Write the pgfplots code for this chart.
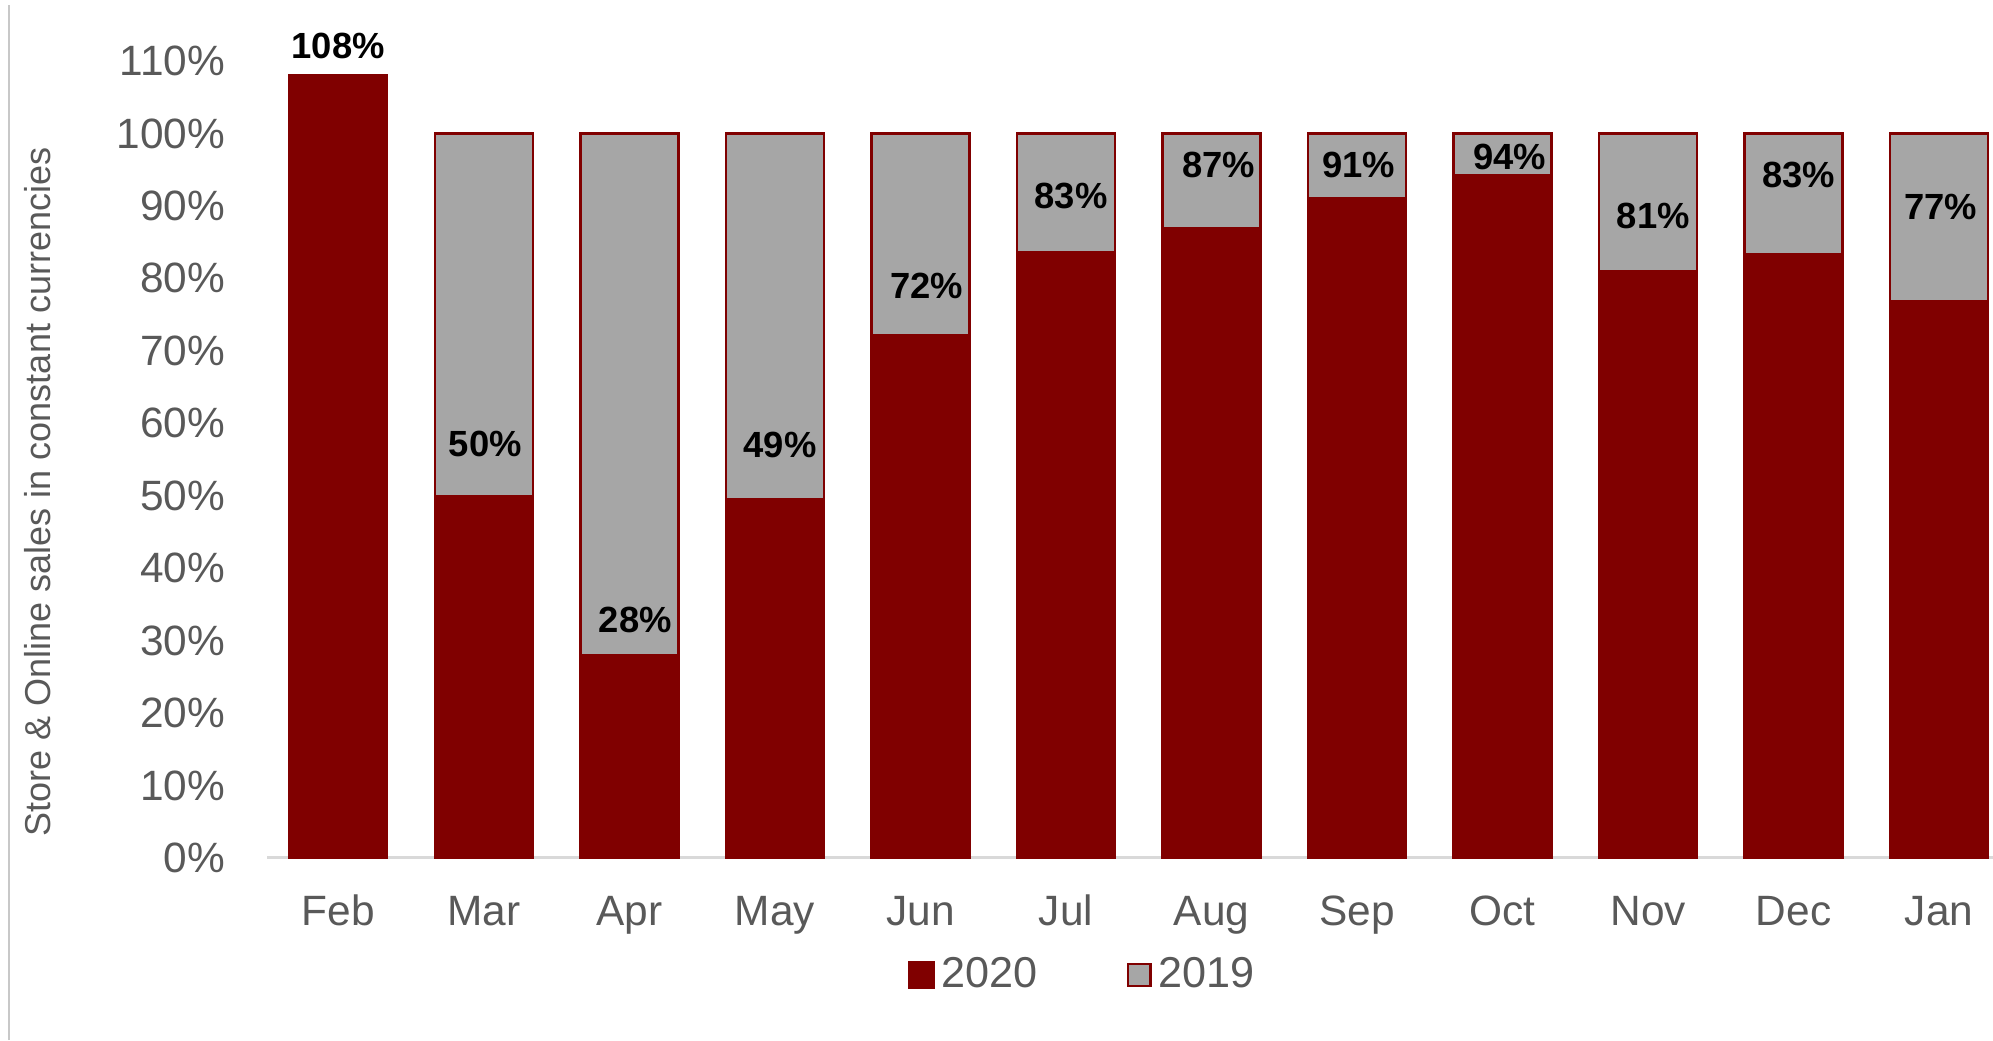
\documentclass[border=0pt]{standalone}
\usepackage{fontspec}
\setmainfont{Liberation Sans}
\usepackage{pgfplots}
\pgfplotsset{compat=1.18}
\definecolor{darkred}{HTML}{800000}
\definecolor{barGray}{HTML}{A6A6A6}
\definecolor{tickGray}{HTML}{595959}
\definecolor{axisGray}{HTML}{D9D9D9}
\definecolor{borderGray}{HTML}{C8C8C8}

% 2020 sales as share of 2019 (2019 = 100%)
\pgfplotstableread{
x v
0 108
1 50
2 28
3 49.5
4 72.1
5 83.6
6 86.9
7 91
8 94.2
9 81
10 83.3
11 76.8
}\tabA
\pgfplotstableread{
x v
1 100
2 100
3 100
4 100
5 100
6 100
7 100
8 100
9 100
10 100
11 100
}\tabB

\begin{document}
\begin{tikzpicture}
\useasboundingbox (0,0) rectangle (498.25pt,260pt);
\draw[borderGray, line width=0.3pt] (2.25pt,0) -- (2.25pt,258.75pt);
\node[rotate=90, text=tickGray, font=\fontsize{9}{10}\selectfont, inner sep=0pt]
  at (9.5pt,137pt) {Store \& Online sales in constant currencies};
\begin{axis}[
  at={(66.75pt,45.5pt)}, anchor=south west,
  scale only axis, width=431.5pt, height=199.25pt,
  xmin=-0.49, xmax=11.37, ymin=0, ymax=110,
  ybar, bar width=0.673, bar shift=0pt,
  axis x line=bottom, axis y line=left,
  y axis line style={draw=none},
  x axis line style={axisGray, line width=0.75pt, -},
  major tick length=0pt,
  ytick={0,10,...,110},
  yticklabel={\pgfmathprintnumber{\tick}\%},
  xtick={0,...,11},
  xticklabels={Feb,Mar,Apr,May,Jun,Jul,Aug,Sep,Oct,Nov,Dec,Jan},
  /pgf/number format/assume math mode=true,
  ticklabel style={font=\fontsize{10.6}{12}\selectfont, text=tickGray},
  yticklabel style={inner sep=0pt, anchor=east, xshift=-10.25pt},
  xticklabel style={inner sep=0pt, anchor=base, yshift=-16.9pt},
  clip=false,
  legend columns=2,
  legend style={at={(0.4738,-0.1468)}, anchor=center, draw=none,
    font=\fontsize{10.8}{12}\selectfont, text=tickGray,
    /tikz/every even column/.append style={column sep=20.5pt},
    nodes={inner xsep=1.75pt, inner ysep=0pt}},
]
\addplot[fill=barGray, draw=darkred, line width=0.6pt, forget plot]
  table[x=x,y=v] {\tabB};
\addplot[fill=darkred, draw=darkred, line width=0.6pt,
  legend image code/.code={\draw[fill=darkred,draw=darkred] (0pt,-3.1pt) rectangle (6.2pt,3.1pt);}]
  table[x=x,y=v] {\tabA};
\addlegendentry{2020}
\addlegendimage{legend image code/.code={\draw[fill=barGray,draw=darkred,line width=0.6pt] (0.3pt,-2.8pt) rectangle (5.9pt,2.8pt);}}
\addlegendentry{2019}
\tikzset{dl/.style={font=\bfseries\fontsize{9.1}{11}\selectfont, text=black, inner sep=0pt}}
\node[dl] at (axis cs:0,112.1) {108\%};
\node[dl] at (axis cs:1.01,57.2) {50\%};
\node[dl] at (axis cs:2.04,32.8) {28\%};
\node[dl] at (axis cs:3.035,57) {49\%};
\node[dl] at (axis cs:4.044,79) {72\%};
\node[dl] at (axis cs:5.035,91.4) {83\%};
\node[dl] at (axis cs:6.05,95.6) {87\%};
\node[dl] at (axis cs:7.01,95.6) {91\%};
\node[dl] at (axis cs:8.05,96.7) {94\%};
\node[dl] at (axis cs:9.035,88.6) {81\%};
\node[dl] at (axis cs:10.035,94.2) {83\%};
\node[dl] at (axis cs:11.01,89.8) {77\%};
\end{axis}
\end{tikzpicture}
\end{document}
